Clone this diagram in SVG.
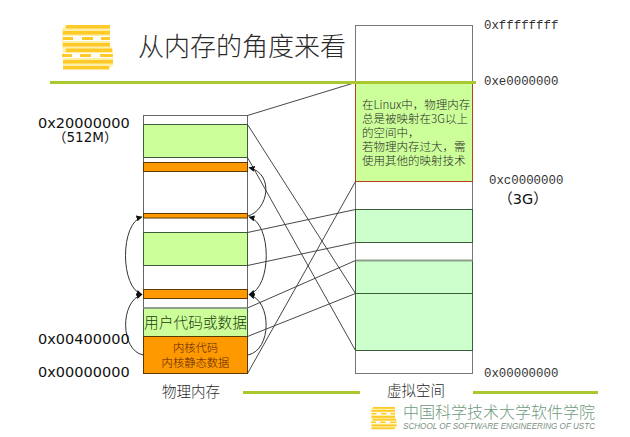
<svg xmlns="http://www.w3.org/2000/svg" width="630" height="437" viewBox="0 0 630 437">
<style>
.cn{font-family:"Noto Sans CJK SC","Liberation Sans",sans-serif;fill:#2a2a2a;font-weight:300}
.hex{font-family:"DejaVu Sans","Noto Sans CJK SC",sans-serif;font-size:14.5px;fill:#111}
.mono{font-family:"Liberation Mono",monospace;font-size:12.4px;fill:#333}
.m{text-anchor:middle}
.lg{fill:#CCFF99;stroke:#3d5c3a;stroke-width:1}
.vg{fill:#CCFFCC;stroke:#3d5c3a;stroke-width:1}
.or{fill:#FF9900;stroke:#5a3a00;stroke-width:1}
.soft{stroke:#8f9f8c;stroke-width:2;fill:none}
.bar{stroke:#A9C82F;stroke-width:3;fill:none}
.link{stroke:#333;stroke-width:.9;fill:none}
.arc{stroke:#333;stroke-width:1;fill:none}
.y{fill:#FFC928}
.p{fill:#FFEFA6}
</style>
<defs>
<marker id="ah" markerWidth="7" markerHeight="7" refX="5.500" refY="3" orient="auto-start-reverse" markerUnits="userSpaceOnUse"><path d="M0 0L6 3L0 6Z" fill="#111"/></marker>
<g id="logo-shape">
<path class="p" d="M4 0H48V21L51 24V40L47 44H1V25L0 22V4Z"/>
<rect class="y" x="4" y="0" width="44" height="3.500"/>
<rect class="y" x="1" y="6" width="47" height="3.500"/>
<rect fill="#fff" x="1" y="11" width="47" height="5"/>
<rect class="y" x="1" y="12" width="10" height="3"/><rect class="y" x="20" y="12" width="11" height="3"/><rect class="y" x="39" y="12" width="9" height="3"/>
<rect class="y" x="1" y="18" width="47" height="3.500"/>
<rect class="y" x="4" y="23.500" width="46" height="3.500"/>
<rect fill="#fff" x="0" y="28" width="51" height="5"/>
<rect class="y" x="0" y="29" width="10" height="3"/><rect class="y" x="18" y="29" width="11" height="3"/><rect class="y" x="38" y="29" width="13" height="3"/>
<rect class="y" x="1" y="35" width="50" height="3.500"/>
<rect class="y" x="1" y="41" width="46" height="3.500"/>
</g>
</defs>
<rect width="630" height="437" fill="#fff"/>

<g id="title-logo"><use href="#logo-shape" x="62" y="25"/></g>
<g id="title"><text class="cn" x="138" y="56" font-size="26">从内存的角度来看</text></g>

<g id="physical-memory">
<rect x="143.500" y="115.500" width="104" height="258" fill="#fff" stroke="#666"/>
<rect class="lg" x="143.500" y="124.500" width="104" height="33"/>
<rect class="or" x="143.500" y="162.500" width="104" height="9"/>
<rect class="or" x="143.500" y="213.500" width="104" height="4.500"/>
<rect class="lg" x="143.500" y="232.500" width="104" height="33"/>
<rect class="or" x="143.500" y="289.500" width="104" height="9"/>
<rect class="lg" x="143.500" y="308" width="104" height="28.500"/>
<line class="soft" x1="143.500" y1="308" x2="247.500" y2="308"/>
<rect class="or" x="143.500" y="336.500" width="104" height="37"/>
<text class="cn m" x="195.500" y="328" font-size="14.700" style="fill:#1c3a10">用户代码或数据</text>
<text class="cn m" font-size="11.300" style="fill:#5a2500"><tspan x="195.500" y="352">内核代码</tspan><tspan x="195.500" y="367">内核静态数据</tspan></text>
</g>

<g id="virtual-space">
<rect x="355.500" y="25.500" width="117" height="348" fill="#fff" stroke="#777"/>
<rect x="355.500" y="82.500" width="117" height="99" fill="#CCFF99" stroke="#B8401A"/>
<rect class="vg" x="355.500" y="209.500" width="117" height="33"/>
<rect class="vg" x="355.500" y="260.500" width="117" height="33"/>
<line class="soft" x1="355.500" y1="260.500" x2="472.500" y2="260.500"/>
<rect class="vg" x="355.500" y="293.500" width="117" height="57"/>
<text class="cn" font-size="11.500"><tspan x="362" y="109">在Linux中，物理内存</tspan><tspan x="362" y="123">总是被映射在3G以上</tspan><tspan x="362" y="137">的空间中，</tspan><tspan x="362" y="151">若物理内存过大，需</tspan><tspan x="362" y="165">使用其他的映射技术</tspan></text>
</g>

<g id="connectors">
<line class="link" x1="247.500" y1="115.500" x2="355.500" y2="82.500"/>
<line class="link" x1="247.500" y1="124.500" x2="355.500" y2="293.500"/>
<line class="link" x1="247.500" y1="157.500" x2="355.500" y2="350.500"/>
<line class="link" x1="247.500" y1="232.500" x2="355.500" y2="209.500"/>
<line class="link" x1="247.500" y1="265.500" x2="355.500" y2="242.500"/>
<line class="link" x1="247.500" y1="308" x2="355.500" y2="260.500"/>
<line class="link" x1="247.500" y1="336.500" x2="355.500" y2="293.500"/>
<line class="link" x1="247.500" y1="373.500" x2="355.500" y2="181.500"/>
<path class="arc" marker-end="url(#ah)" d="M248 216C268 210 275 174 249 167.500"/>
<path class="arc" marker-start="url(#ah)" marker-end="url(#ah)" d="M249 217C272 223 272 288 249 294.500"/>
<path class="arc" marker-end="url(#ah)" d="M248 355C272 350 272 301 249 294.500"/>
<path class="arc" marker-start="url(#ah)" marker-end="url(#ah)" d="M142 217C120 223 120 288 142 294.500"/>
<path class="arc" marker-end="url(#ah)" d="M143 355C120 350 120 301 142 294.500"/>
</g>

<g id="rules">
<line class="bar" x1="50" y1="82.500" x2="476" y2="82.500"/>
<line class="bar" x1="243" y1="392.500" x2="360" y2="392.500"/>
<line class="bar" x1="473" y1="392.500" x2="598" y2="392.500"/>
</g>

<g id="labels">
<text class="hex"><tspan x="38" y="128">0x20000000</tspan><tspan x="53" y="142" font-size="13.500">（512M）</tspan></text>
<text class="hex" x="38" y="344">0x00400000</text>
<text class="hex" x="38" y="377">0x00000000</text>
<text class="cn m" x="191" y="397" font-size="14.500">物理内存</text>
<text class="cn m" x="416" y="396" font-size="14.500">虚拟空间</text>
<text class="mono" x="484" y="29">0xffffffff</text>
<text class="mono" x="484" y="85">0xe0000000</text>
<text class="mono" x="489" y="184">0xc0000000</text>
<text class="hex m" x="523" y="204">（3G）</text>
<text class="mono" x="484" y="377">0x00000000</text>
</g>

<g id="footer">
<use href="#logo-shape" transform="translate(371 407) scale(.5)"/>
<text class="cn" font-size="16" style="fill:#6f9a80"><tspan x="403" y="418">中国科学技术大学软件学院</tspan><tspan x="403" y="429" font-family="Liberation Sans,sans-serif" font-style="italic" font-size="9.500" style="fill:#7a8f80" textLength="192" lengthAdjust="spacingAndGlyphs">SCHOOL OF SOFTWARE ENGINEERING OF USTC</tspan></text>
</g>
</svg>
